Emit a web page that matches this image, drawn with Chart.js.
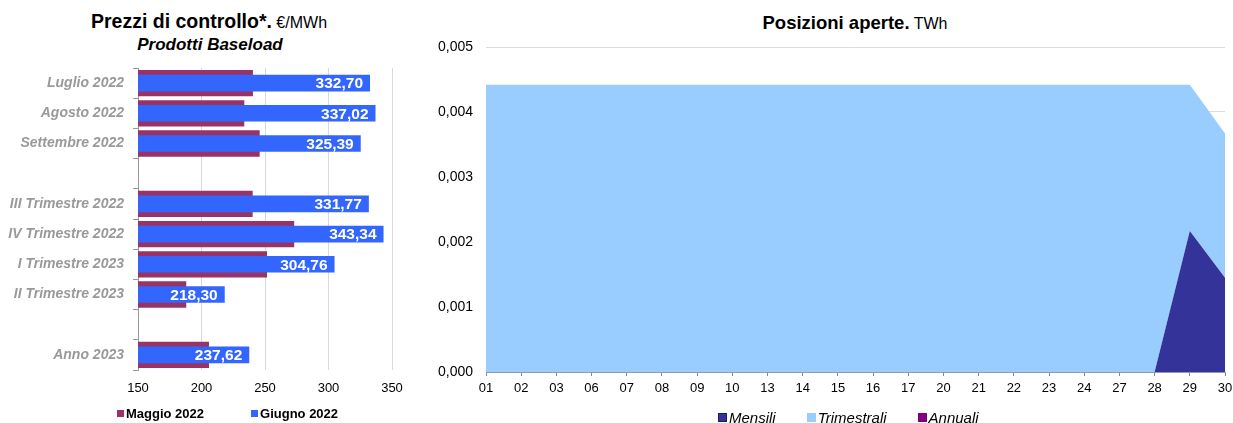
<!DOCTYPE html>
<html>
<head>
<meta charset="utf-8">
<script src="https://cdn.jsdelivr.net/npm/chart.js@4.4.0/dist/chart.umd.min.js"></script>
<style>
  body { margin: 0; width: 1233px; height: 423px; background: #fff; position: relative; overflow: hidden;
         font-family: "Liberation Sans", Arial, sans-serif; }
  canvas { position: absolute; top: 0; }
  .titolo { position: absolute; white-space: nowrap; line-height: 1; color: #000; }
  .legenda { position: absolute; display: flex; align-items: center; white-space: nowrap; line-height: 1; }
  .legenda span.box { display: inline-block; }
</style>
</head>
<body>
<div class="titolo" id="tit-prezzi" style="top:12px; left:0; width:418px; text-align:center;">
  <span style="font-weight:bold; font-size:19.5px;">Prezzi di controllo*.</span><span style="font-size:16px;"> €/MWh</span>
</div>
<div class="titolo" style="top:36px; left:0; width:420px; text-align:center; font-weight:bold; font-style:italic; font-size:17px;">Prodotti Baseload</div>
<div class="titolo" style="top:14px; left:485px; width:740px; text-align:center;">
  <span style="font-weight:bold; font-size:18.5px;">Posizioni aperte.</span><span style="font-size:16px;"> TWh</span>
</div>

<canvas id="prezzi-chart" width="410" height="423" style="left:0"></canvas>
<canvas id="posizioni-chart" width="813" height="423" style="left:420px"></canvas>

<div class="legenda" id="leg-prezzi" style="left:117px; top:407px; font-weight:bold; font-size:13px;"></div>
<div class="legenda" id="leg-posizioni" style="left:718px; top:410px; font-style:italic; font-size:15px;"></div>

<script>
// Prezzi di controllo - prodotti baseload (€/MWh)
const prodotti = ['Luglio 2022', 'Agosto 2022', 'Settembre 2022', '', 'III Trimestre 2022',
  'IV Trimestre 2022', 'I Trimestre 2023', 'II Trimestre 2023', '', 'Anno 2023']
const maggio = [240.5, 233.7, 245.8, null, 240.3, 273.0, 251.6, 188.0, null, 205.9]
const giugno = [332.70, 337.02, 325.39, null, 331.77, 343.34, 304.76, 218.30, null, 237.62]
const prezziTicks = [150, 200, 250, 300, 350]

// Posizioni aperte (TWh)
const giorni = ['01', '02', '03', '06', '07', '08', '09', '10', '13', '14', '15', '16', '17',
  '20', '21', '22', '23', '24', '27', '28', '29', '30']
const mensili = [0, 0, 0, 0, 0, 0, 0, 0, 0, 0, 0, 0, 0, 0, 0, 0, 0, 0, 0, 0, 0.00217, 0.00145]
const trimestrali = [0.00442, 0.00442, 0.00442, 0.00442, 0.00442, 0.00442, 0.00442, 0.00442,
  0.00442, 0.00442, 0.00442, 0.00442, 0.00442, 0.00442, 0.00442, 0.00442, 0.00442, 0.00442,
  0.00442, 0.00442, 0.00225, 0.00222]
const annuali = [0, 0, 0, 0, 0, 0, 0, 0, 0, 0, 0, 0, 0, 0, 0, 0, 0, 0, 0, 0, 0, 0]
const posizioniTicks = [0, 0.001, 0.002, 0.003, 0.004, 0.005]

const FONT = '"Liberation Sans", Arial, sans-serif'

function virgola(v, dec) {
    return v.toFixed(dec).replace('.', ',')
}

// niente padding automatico per le etichette dell'asse x
function fissaAsseX(altezza) {
    return (scale) => {
        scale.height = altezza
        scale.paddingLeft = 0
        scale.paddingRight = 0
    }
}

function legenda(id, voci, box, gap) {
    const el = document.getElementById(id)
    voci.forEach((v, i) => {
        const item = document.createElement('span')
        item.style.display = 'inline-flex'
        item.style.alignItems = 'center'
        if (i > 0) item.style.marginLeft = gap + 'px'
        item.innerHTML = `<span class="box" style="width:${box}px;height:${box}px;background:${v.colore};${v.bordo ? 'box-shadow:inset 0 0 0 1px ' + v.bordo : ''}"></span>` +
            `<span style="margin-left:2px">${v.nome}</span>`
        el.appendChild(item)
    })
}

// etichette bianche dentro le barre di giugno
const etichetteGiugno = {
    id: 'etichetteGiugno',
    afterDatasetsDraw(chart) {
        const ctx = chart.ctx
        const meta = chart.getDatasetMeta(1)
        ctx.save()
        ctx.font = 'bold 15.5px ' + FONT
        ctx.fillStyle = '#ffffff'
        ctx.textAlign = 'right'
        ctx.textBaseline = 'middle'
        meta.data.forEach((bar, i) => {
            if (giugno[i] == null) return
            ctx.fillText(virgola(giugno[i], 2), bar.x - 7, bar.y + 1)
        })
        ctx.restore()
    }
}

new Chart(document.getElementById('prezzi-chart'), {
    type: 'bar',
    data: {
        labels: prodotti,
        datasets: [{
            label: 'Maggio 2022',
            data: maggio,
            backgroundColor: '#993366',
            grouped: false,
            order: 2,
            barPercentage: 0.87,
            categoryPercentage: 1
        }, {
            label: 'Giugno 2022',
            data: giugno,
            backgroundColor: '#3366ff',
            grouped: false,
            order: 1,
            barPercentage: 0.55,
            categoryPercentage: 1
        }]
    },
    options: {
        indexAxis: 'y',
        responsive: false,
        animation: false,
        layout: { padding: { top: 68, bottom: 23, left: 0, right: 18 } },
        plugins: { legend: { display: false }, tooltip: { enabled: false } },
        scales: {
            x: {
                min: 150,
                max: 350,
                afterBuildTicks: (scale) => { scale.ticks = prezziTicks.map(v => ({ value: v })) },
                afterFit: fissaAsseX(30),
                grid: { color: '#d9d9d9', drawTicks: false },
                border: { display: false },
                ticks: { color: '#000', padding: 11, font: { family: FONT, size: 13 } }
            },
            y: {
                afterFit: (scale) => { scale.width = 138 },
                grid: { drawOnChartArea: false, drawTicks: true, tickLength: 5, color: '#999', offset: true },
                border: { display: true, color: '#999' },
                ticks: { color: '#999', padding: 9, font: { family: FONT, size: 14, weight: 'bold', style: 'italic' } }
            }
        }
    },
    plugins: [etichetteGiugno]
})

new Chart(document.getElementById('posizioni-chart'), {
    type: 'line',
    data: {
        labels: giorni,
        datasets: [{
            label: 'Mensili',
            data: mensili,
            backgroundColor: '#333399',
            fill: 'origin'
        }, {
            label: 'Trimestrali',
            data: trimestrali,
            backgroundColor: '#99ccff',
            fill: '-1'
        }, {
            label: 'Annuali',
            data: annuali,
            backgroundColor: '#800080',
            fill: '-1'
        }]
    },
    options: {
        responsive: false,
        animation: false,
        elements: { point: { radius: 0 }, line: { borderWidth: 0, tension: 0 } },
        layout: { padding: { top: 47, bottom: 21, left: 0, right: 8 } },
        plugins: { legend: { display: false }, tooltip: { enabled: false } },
        scales: {
            x: {
                offset: false,
                afterFit: fissaAsseX(30),
                grid: { drawOnChartArea: false, drawTicks: true, tickLength: 4, color: '#888' },
                border: { display: true, color: '#8c9bb0' },
                ticks: { color: '#000', padding: 5, autoSkip: false, maxRotation: 0, font: { family: FONT, size: 13 } }
            },
            y: {
                stacked: true,
                min: 0,
                max: 0.005,
                afterBuildTicks: (scale) => { scale.ticks = posizioniTicks.map(v => ({ value: v })) },
                afterFit: (scale) => { scale.width = 66 },
                grid: { color: '#dcdcdc', drawTicks: false },
                border: { display: false },
                ticks: {
                    color: '#000',
                    padding: 13,
                    font: { family: FONT, size: 14 },
                    callback: (v) => virgola(v, 3)
                }
            }
        }
    }
})

legenda('leg-prezzi', [
    { nome: 'Maggio 2022', colore: '#993366' },
    { nome: 'Giugno 2022', colore: '#3366ff' }
], 7, 47)
legenda('leg-posizioni', [
    { nome: 'Mensili', colore: '#333399', bordo: '#1a1a66' },
    { nome: 'Trimestrali', colore: '#99ccff' },
    { nome: 'Annuali', colore: '#800080' }
], 9, 31)
</script>
</body>
</html>
